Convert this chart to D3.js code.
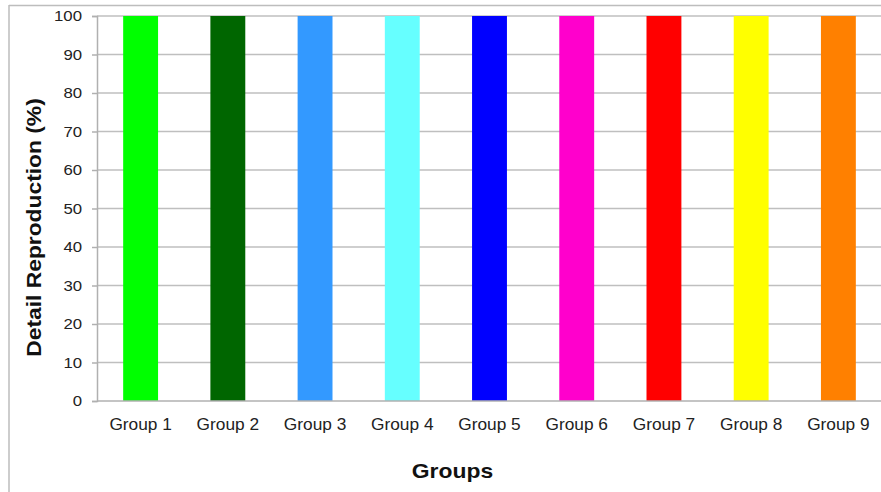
<!DOCTYPE html>
<html>
<head>
<meta charset="utf-8">
<script src="https://cdn.jsdelivr.net/npm/d3@7/dist/d3.min.js"></script>
<style>
  html, body { margin: 0; padding: 0; background: #fff; }
  svg { display: block; font-family: "Liberation Sans", Arial, sans-serif; }
</style>
</head>
<body>
<svg id="chart" width="881" height="492"></svg>
<script>
// Detail reproduction per group
const groups = ["Group 1", "Group 2", "Group 3", "Group 4", "Group 5", "Group 6", "Group 7", "Group 8", "Group 9"];
const values = [100, 100, 100, 100, 100, 100, 100, 100, 100];
const barColors = ["#00ff00", "#006600", "#3399ff", "#66ffff", "#0000ff", "#ff00cc", "#ff0000", "#ffff00", "#ff8000"];
const yTicks = [0, 10, 20, 30, 40, 50, 60, 70, 80, 90, 100];

const width = 881, height = 492;
const margin = { left: 97, right: -1, top: 16, bottom: 91 };
const svg = d3.select("#chart");

// widen text glyphs slightly along their baseline
function stretch(sel, k) {
  sel.each(function () {
    const len = this.getComputedTextLength();
    d3.select(this).attr("textLength", len * k).attr("lengthAdjust", "spacingAndGlyphs");
  });
}

// outer frame (top and left edges)
svg.append("line").attr("x1", 9).attr("x2", width).attr("y1", 5.5).attr("y2", 5.5)
  .attr("stroke", "#bdbdbd").attr("stroke-width", 1.5);
svg.append("line").attr("x1", 9).attr("x2", 9).attr("y1", 5).attr("y2", height)
  .attr("stroke", "#bdbdbd").attr("stroke-width", 1.5);

const x = d3.scaleBand().domain(groups)
  .range([margin.left, width - margin.right])
  .paddingInner(0.6).paddingOuter(0.3);
const y = d3.scaleLinear().domain([0, 100]).range([height - margin.bottom, margin.top]);

// gridlines
svg.append("g").selectAll("line").data(yTicks.filter(d => d > 0)).join("line")
  .attr("x1", margin.left).attr("x2", width)
  .attr("y1", d => y(d)).attr("y2", d => y(d))
  .attr("stroke", "#bfbfbf").attr("stroke-width", 1.5);

// bars
svg.append("g").selectAll("rect").data(groups).join("rect")
  .attr("x", d => x(d))
  .attr("width", x.bandwidth())
  .attr("y", (d, i) => y(values[i]))
  .attr("height", (d, i) => y(0) - y(values[i]))
  .attr("fill", (d, i) => barColors[i]);

// y axis
const yAxis = svg.append("g").attr("transform", `translate(${margin.left},0)`)
  .call(d3.axisLeft(y).tickValues(yTicks).tickSize(5).tickPadding(10));
yAxis.select(".domain").attr("stroke", "#b0b0b0").attr("stroke-width", 1.5);
yAxis.selectAll(".tick line").attr("stroke", "#b0b0b0").attr("stroke-width", 1.5);
yAxis.selectAll("text").attr("font-size", 15.5).attr("fill", "#222")
  .attr("font-family", "Liberation Sans, Arial, sans-serif")
  .call(stretch, 1.08);

// x axis
const xAxis = svg.append("g").attr("transform", `translate(0,${y(0)})`)
  .call(d3.axisBottom(x).tickSize(0).tickPadding(18));
xAxis.select(".domain").attr("stroke", "#b0b0b0").attr("stroke-width", 1.5)
  .attr("d", `M${margin.left},0H${width}`);
xAxis.selectAll("text").attr("font-size", 16).attr("fill", "#222")
  .attr("font-family", "Liberation Sans, Arial, sans-serif")
  .call(stretch, 1.08);

// axis titles
svg.append("text")
  .attr("transform", `translate(41,227.5) rotate(-90)`)
  .attr("text-anchor", "middle")
  .attr("font-size", 20).attr("font-weight", "bold").attr("fill", "#111")
  .text("Detail Reproduction (%)")
  .call(stretch, 1.14);

svg.append("text")
  .attr("x", 452.5).attr("y", 478)
  .attr("text-anchor", "middle")
  .attr("font-size", 21).attr("font-weight", "bold").attr("fill", "#111")
  .text("Groups")
  .call(stretch, 1.09);
</script>
</body>
</html>
